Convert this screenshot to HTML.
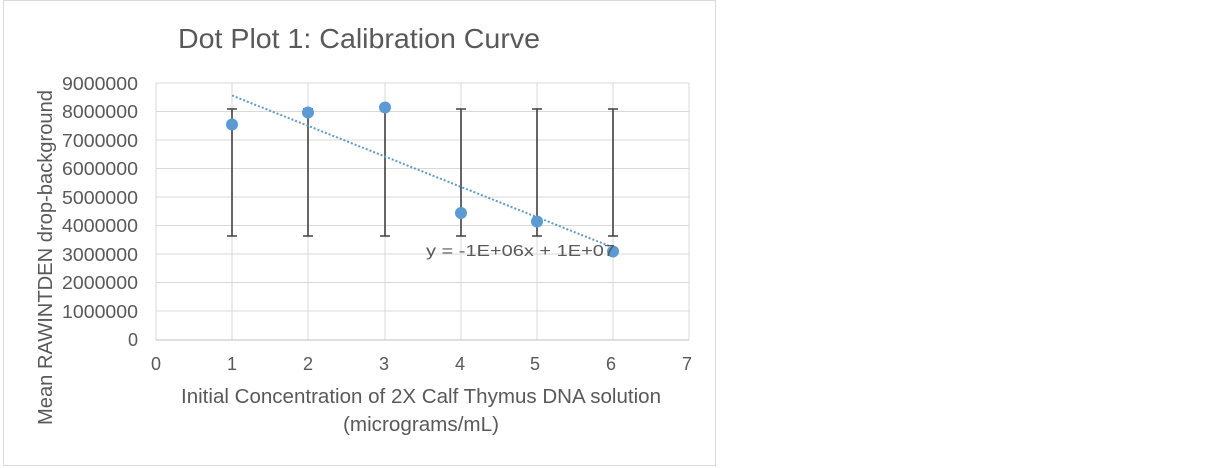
<!DOCTYPE html>
<html><head><style>
body{margin:0;background:#fff;}
svg{display:block;font-family:"Liberation Sans",sans-serif;}
</style></head><body>
<svg width="1211" height="468" xmlns="http://www.w3.org/2000/svg">
<rect x="3.5" y="0.5" width="712" height="465" fill="#fff" stroke="#d9d9d9"/>
<text x="178" y="48" font-size="28" fill="#595959" textLength="362" lengthAdjust="spacingAndGlyphs">Dot Plot 1: Calibration Curve</text>
<g stroke="#d9d9d9" stroke-width="1">
<line x1="156" y1="83" x2="689" y2="83"/><line x1="156" y1="111.5" x2="689" y2="111.5"/>
<line x1="156" y1="140" x2="689" y2="140"/><line x1="156" y1="168.5" x2="689" y2="168.5"/>
<line x1="156" y1="197" x2="689" y2="197"/><line x1="156" y1="225.5" x2="689" y2="225.5"/>
<line x1="156" y1="254" x2="689" y2="254"/><line x1="156" y1="282.5" x2="689" y2="282.5"/>
<line x1="156" y1="311" x2="689" y2="311"/>
<line x1="156" y1="83" x2="156" y2="340"/><line x1="232" y1="83" x2="232" y2="340"/>
<line x1="308" y1="83" x2="308" y2="340"/><line x1="385" y1="83" x2="385" y2="340"/>
<line x1="461" y1="83" x2="461" y2="340"/><line x1="537" y1="83" x2="537" y2="340"/>
<line x1="613" y1="83" x2="613" y2="340"/><line x1="689" y1="83" x2="689" y2="340"/>
</g>
<line x1="156" y1="340" x2="689" y2="340" stroke="#bfbfbf"/>
<g font-size="18" fill="#595959">
<text x="62" y="90" textLength="76" lengthAdjust="spacingAndGlyphs">9000000</text><text x="62" y="118" textLength="76" lengthAdjust="spacingAndGlyphs">8000000</text>
<text x="62" y="147" textLength="76" lengthAdjust="spacingAndGlyphs">7000000</text><text x="62" y="175" textLength="76" lengthAdjust="spacingAndGlyphs">6000000</text>
<text x="62" y="204" textLength="76" lengthAdjust="spacingAndGlyphs">5000000</text><text x="62" y="232" textLength="76" lengthAdjust="spacingAndGlyphs">4000000</text>
<text x="62" y="261" textLength="76" lengthAdjust="spacingAndGlyphs">3000000</text><text x="62" y="289" textLength="76" lengthAdjust="spacingAndGlyphs">2000000</text>
<text x="62" y="318" textLength="76" lengthAdjust="spacingAndGlyphs">1000000</text><text x="138" y="346" text-anchor="end">0</text>
</g>
<g font-size="18" fill="#595959" text-anchor="middle">
<text x="156" y="370">0</text><text x="232" y="370">1</text><text x="308" y="370">2</text>
<text x="384" y="370">3</text><text x="460" y="370">4</text><text x="535" y="370">5</text>
<text x="611" y="370">6</text><text x="687" y="370">7</text>
</g>
<g stroke="#404040" stroke-width="1.6">
<path d="M232 109V236M227 109H237M227 236H237"/>
<path d="M308 109V236M303 109H313M303 236H313"/>
<path d="M385 109V236M380 109H390M380 236H390"/>
<path d="M461 109V236M456 109H466M456 236H466"/>
<path d="M537 109V236M532 109H542M532 236H542"/>
<path d="M613 109V236M608 109H618M608 236H618"/>
</g>
<line x1="232" y1="95.5" x2="613" y2="247.5" stroke="#5b9bd5" stroke-width="2" stroke-dasharray="2,2"/>
<g fill="#5b9bd5">
<circle cx="232" cy="124.5" r="6"/><circle cx="308" cy="112.5" r="6"/>
<circle cx="385" cy="107.5" r="6"/><circle cx="461" cy="213" r="6"/>
<circle cx="537" cy="221.5" r="6"/><circle cx="613" cy="251.5" r="6"/>
</g>
<text x="426" y="256" font-size="16" fill="#595959" textLength="189" lengthAdjust="spacingAndGlyphs">y = -1E+06x + 1E+07</text>
<text x="181" y="403" font-size="20" fill="#595959" textLength="480" lengthAdjust="spacingAndGlyphs">Initial Concentration of 2X Calf Thymus DNA solution</text>
<text x="343" y="431" font-size="20" fill="#595959" textLength="156" lengthAdjust="spacingAndGlyphs">(micrograms/mL)</text>
<text transform="translate(52,425) rotate(-90)" font-size="20" fill="#595959" textLength="335" lengthAdjust="spacingAndGlyphs">Mean RAWINTDEN drop-background</text>
</svg>
</body></html>
